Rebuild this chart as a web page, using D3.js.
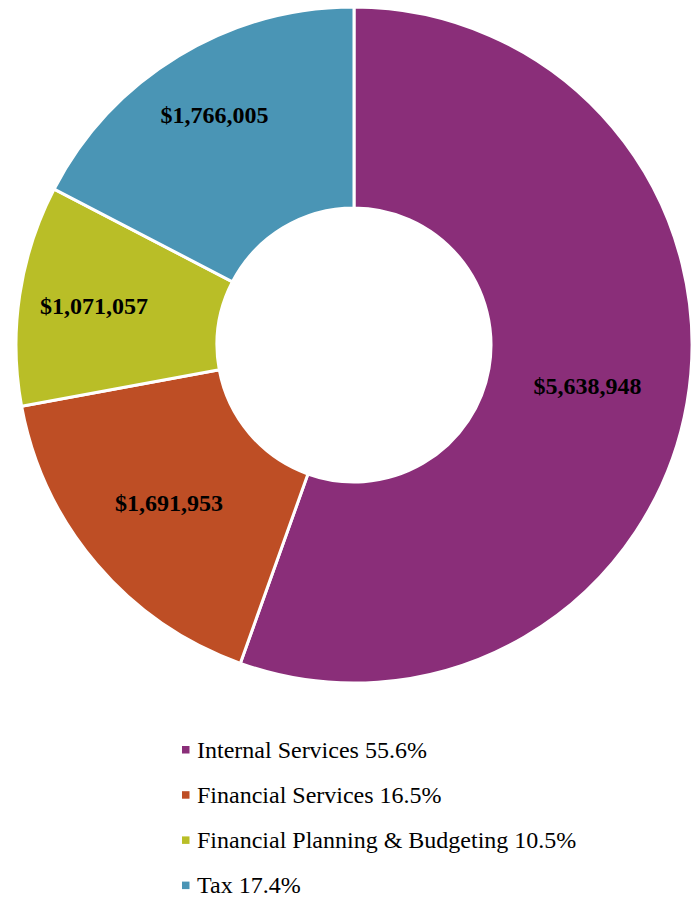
<!DOCTYPE html>
<html>
<head>
<meta charset="utf-8">
<script src="https://cdn.jsdelivr.net/npm/d3@7"></script>
<style>
  html, body { margin: 0; padding: 0; background: #fff; }
  svg { display: block; }
</style>
</head>
<body>
<svg id="chart" width="697" height="897"></svg>
<script>
// Budget by program
const categories = ["Internal Services", "Financial Services", "Financial Planning & Budgeting", "Tax"];
const amounts = [5638948, 1691953, 1071057, 1766005];
const shareLabels = ["55.6%", "16.5%", "10.5%", "17.4%"];
const colors = ["#8A2E79", "#BE4E25", "#B9BE27", "#4A95B5"];
// distance of each value label from the centre
const labelRadius = [237, 243, 263, 269];

const svg = d3.select("#chart");
const cx = 354, cy = 345;
const outerR = 338, innerR = 137;

const pie = d3.pie().sort(null).value(d => d.value);
const slices = pie(categories.map((c, i) => ({ name: c, value: amounts[i], i })));

const arc = d3.arc().innerRadius(innerR).outerRadius(outerR);

const g = svg.append("g").attr("transform", `translate(${cx},${cy})`);

g.selectAll("path.slice")
  .data(slices)
  .join("path")
  .attr("class", "slice")
  .attr("d", arc)
  .attr("fill", d => colors[d.data.i])
  .attr("stroke", "#fff")
  .attr("stroke-width", 3)
  .attr("stroke-linejoin", "miter");

const fmt = d3.format("$,");
g.selectAll("text.value")
  .data(slices)
  .join("text")
  .attr("class", "value")
  .attr("transform", d => {
    const r = labelRadius[d.data.i];
    const [x, y] = d3.arc().innerRadius(r).outerRadius(r).centroid(d);
    return `translate(${x},${y})`;
  })
  .attr("text-anchor", "middle")
  .attr("dy", "0.35em")
  .attr("font-family", "'Liberation Serif', 'Times New Roman', serif")
  .attr("font-weight", "bold")
  .attr("font-size", 24)
  .attr("fill", "#000")
  .text(d => fmt(d.data.value));

// Legend
const legend = svg.append("g").attr("transform", "translate(182,757.5)");
const rowStep = 45.2;
const rows = legend.selectAll("g.row")
  .data(categories)
  .join("g")
  .attr("class", "row")
  .attr("transform", (d, i) => `translate(0,${i * rowStep})`);

rows.append("rect")
  .attr("x", 0)
  .attr("y", -11.5)
  .attr("width", 7.5)
  .attr("height", 7.5)
  .attr("fill", (d, i) => colors[i]);

rows.append("text")
  .attr("x", 15)
  .attr("y", 0)
  .attr("font-family", "'Liberation Serif', 'Times New Roman', serif")
  .attr("font-size", 24)
  .attr("fill", "#000")
  .text((d, i) => `${d} ${shareLabels[i]}`);
</script>
</body>
</html>
